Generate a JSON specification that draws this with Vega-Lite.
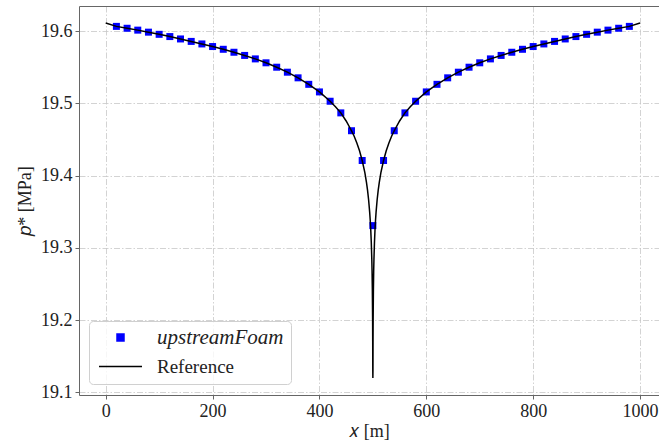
{
  "$schema": "https://vega.github.io/schema/vega-lite/v6.json",
  "autosize": {"type": "none"},
  "padding": {"left": 79, "top": 6, "right": 0, "bottom": 51},
  "width": 580,
  "height": 389,
  "background": "white",
  "config": {
    "view": {"stroke": null},
    "font": "Liberation Serif",
    "axis": {
      "labelFont": "Liberation Serif",
      "labelFontSize": 18,
      "labelColor": "#222222",
      "titleFont": "Liberation Serif",
      "titleFontSize": 18,
      "titleFontWeight": "normal",
      "titleColor": "#222222",
      "domainColor": "#666666",
      "domainWidth": 1,
      "tickColor": "#666666",
      "tickSize": 4,
      "tickWidth": 1,
      "gridColor": "#c8c8c8",
      "gridWidth": 0.8,
      "gridDash": [6, 2, 1.5, 2]
    }
  },
  "datasets": {
    "sim": [
      {"x": 20, "p": 19.6064, "series": "upstreamFoam"},
      {"x": 40, "p": 19.6038, "series": "upstreamFoam"},
      {"x": 60, "p": 19.6012, "series": "upstreamFoam"},
      {"x": 80, "p": 19.5984, "series": "upstreamFoam"},
      {"x": 100, "p": 19.5954, "series": "upstreamFoam"},
      {"x": 120, "p": 19.5923, "series": "upstreamFoam"},
      {"x": 140, "p": 19.589, "series": "upstreamFoam"},
      {"x": 160, "p": 19.5856, "series": "upstreamFoam"},
      {"x": 180, "p": 19.5821, "series": "upstreamFoam"},
      {"x": 200, "p": 19.5785, "series": "upstreamFoam"},
      {"x": 220, "p": 19.5747, "series": "upstreamFoam"},
      {"x": 240, "p": 19.5706, "series": "upstreamFoam"},
      {"x": 260, "p": 19.5662, "series": "upstreamFoam"},
      {"x": 280, "p": 19.5614, "series": "upstreamFoam"},
      {"x": 300, "p": 19.556, "series": "upstreamFoam"},
      {"x": 320, "p": 19.5499, "series": "upstreamFoam"},
      {"x": 340, "p": 19.543, "series": "upstreamFoam"},
      {"x": 360, "p": 19.5352, "series": "upstreamFoam"},
      {"x": 380, "p": 19.5262, "series": "upstreamFoam"},
      {"x": 400, "p": 19.5157, "series": "upstreamFoam"},
      {"x": 420, "p": 19.5028, "series": "upstreamFoam"},
      {"x": 440, "p": 19.4867, "series": "upstreamFoam"},
      {"x": 460, "p": 19.462, "series": "upstreamFoam"},
      {"x": 480, "p": 19.4208, "series": "upstreamFoam"},
      {"x": 500, "p": 19.3307, "series": "upstreamFoam"},
      {"x": 520, "p": 19.4208, "series": "upstreamFoam"},
      {"x": 540, "p": 19.462, "series": "upstreamFoam"},
      {"x": 560, "p": 19.4867, "series": "upstreamFoam"},
      {"x": 580, "p": 19.5028, "series": "upstreamFoam"},
      {"x": 600, "p": 19.5157, "series": "upstreamFoam"},
      {"x": 620, "p": 19.5262, "series": "upstreamFoam"},
      {"x": 640, "p": 19.5352, "series": "upstreamFoam"},
      {"x": 660, "p": 19.543, "series": "upstreamFoam"},
      {"x": 680, "p": 19.5499, "series": "upstreamFoam"},
      {"x": 700, "p": 19.556, "series": "upstreamFoam"},
      {"x": 720, "p": 19.5614, "series": "upstreamFoam"},
      {"x": 740, "p": 19.5662, "series": "upstreamFoam"},
      {"x": 760, "p": 19.5706, "series": "upstreamFoam"},
      {"x": 780, "p": 19.5747, "series": "upstreamFoam"},
      {"x": 800, "p": 19.5785, "series": "upstreamFoam"},
      {"x": 820, "p": 19.5821, "series": "upstreamFoam"},
      {"x": 840, "p": 19.5856, "series": "upstreamFoam"},
      {"x": 860, "p": 19.589, "series": "upstreamFoam"},
      {"x": 880, "p": 19.5923, "series": "upstreamFoam"},
      {"x": 900, "p": 19.5954, "series": "upstreamFoam"},
      {"x": 920, "p": 19.5984, "series": "upstreamFoam"},
      {"x": 940, "p": 19.6012, "series": "upstreamFoam"},
      {"x": 960, "p": 19.6038, "series": "upstreamFoam"},
      {"x": 980, "p": 19.6064, "series": "upstreamFoam"}
    ],
    "ref": [
      {"x": 0, "p": 19.611, "series": "Reference"},
      {"x": 20, "p": 19.6064, "series": "Reference"},
      {"x": 40, "p": 19.6038, "series": "Reference"},
      {"x": 60, "p": 19.6012, "series": "Reference"},
      {"x": 80, "p": 19.5984, "series": "Reference"},
      {"x": 100, "p": 19.5954, "series": "Reference"},
      {"x": 120, "p": 19.5923, "series": "Reference"},
      {"x": 140, "p": 19.589, "series": "Reference"},
      {"x": 160, "p": 19.5856, "series": "Reference"},
      {"x": 180, "p": 19.5821, "series": "Reference"},
      {"x": 200, "p": 19.5785, "series": "Reference"},
      {"x": 220, "p": 19.5747, "series": "Reference"},
      {"x": 240, "p": 19.5706, "series": "Reference"},
      {"x": 260, "p": 19.5662, "series": "Reference"},
      {"x": 280, "p": 19.5614, "series": "Reference"},
      {"x": 300, "p": 19.556, "series": "Reference"},
      {"x": 320, "p": 19.5499, "series": "Reference"},
      {"x": 340, "p": 19.543, "series": "Reference"},
      {"x": 360, "p": 19.5352, "series": "Reference"},
      {"x": 380, "p": 19.5262, "series": "Reference"},
      {"x": 400, "p": 19.5157, "series": "Reference"},
      {"x": 420, "p": 19.5028, "series": "Reference"},
      {"x": 430, "p": 19.4953, "series": "Reference"},
      {"x": 440, "p": 19.4867, "series": "Reference"},
      {"x": 450, "p": 19.4755, "series": "Reference"},
      {"x": 460, "p": 19.462, "series": "Reference"},
      {"x": 465, "p": 19.4543, "series": "Reference"},
      {"x": 470, "p": 19.4451, "series": "Reference"},
      {"x": 475, "p": 19.4343, "series": "Reference"},
      {"x": 480, "p": 19.4208, "series": "Reference"},
      {"x": 485, "p": 19.4039, "series": "Reference"},
      {"x": 488, "p": 19.3906, "series": "Reference"},
      {"x": 490, "p": 19.3798, "series": "Reference"},
      {"x": 492, "p": 19.3665, "series": "Reference"},
      {"x": 494, "p": 19.3494, "series": "Reference"},
      {"x": 495, "p": 19.3385, "series": "Reference"},
      {"x": 496, "p": 19.3253, "series": "Reference"},
      {"x": 497, "p": 19.3081, "series": "Reference"},
      {"x": 498, "p": 19.284, "series": "Reference"},
      {"x": 498.5, "p": 19.267, "series": "Reference"},
      {"x": 499, "p": 19.2427, "series": "Reference"},
      {"x": 499.5, "p": 19.2015, "series": "Reference"},
      {"x": 499.7, "p": 19.171, "series": "Reference"},
      {"x": 499.85, "p": 19.13, "series": "Reference"},
      {"x": 500, "p": 19.12, "series": "Reference"},
      {"x": 500.15, "p": 19.13, "series": "Reference"},
      {"x": 500.3, "p": 19.171, "series": "Reference"},
      {"x": 500.5, "p": 19.2015, "series": "Reference"},
      {"x": 501, "p": 19.2427, "series": "Reference"},
      {"x": 501.5, "p": 19.267, "series": "Reference"},
      {"x": 502, "p": 19.284, "series": "Reference"},
      {"x": 503, "p": 19.3081, "series": "Reference"},
      {"x": 504, "p": 19.3253, "series": "Reference"},
      {"x": 505, "p": 19.3385, "series": "Reference"},
      {"x": 506, "p": 19.3494, "series": "Reference"},
      {"x": 508, "p": 19.3665, "series": "Reference"},
      {"x": 510, "p": 19.3798, "series": "Reference"},
      {"x": 512, "p": 19.3906, "series": "Reference"},
      {"x": 515, "p": 19.4039, "series": "Reference"},
      {"x": 520, "p": 19.4208, "series": "Reference"},
      {"x": 525, "p": 19.4343, "series": "Reference"},
      {"x": 530, "p": 19.4451, "series": "Reference"},
      {"x": 535, "p": 19.4543, "series": "Reference"},
      {"x": 540, "p": 19.462, "series": "Reference"},
      {"x": 550, "p": 19.4755, "series": "Reference"},
      {"x": 560, "p": 19.4867, "series": "Reference"},
      {"x": 570, "p": 19.4953, "series": "Reference"},
      {"x": 580, "p": 19.5028, "series": "Reference"},
      {"x": 600, "p": 19.5157, "series": "Reference"},
      {"x": 620, "p": 19.5262, "series": "Reference"},
      {"x": 640, "p": 19.5352, "series": "Reference"},
      {"x": 660, "p": 19.543, "series": "Reference"},
      {"x": 680, "p": 19.5499, "series": "Reference"},
      {"x": 700, "p": 19.556, "series": "Reference"},
      {"x": 720, "p": 19.5614, "series": "Reference"},
      {"x": 740, "p": 19.5662, "series": "Reference"},
      {"x": 760, "p": 19.5706, "series": "Reference"},
      {"x": 780, "p": 19.5747, "series": "Reference"},
      {"x": 800, "p": 19.5785, "series": "Reference"},
      {"x": 820, "p": 19.5821, "series": "Reference"},
      {"x": 840, "p": 19.5856, "series": "Reference"},
      {"x": 860, "p": 19.589, "series": "Reference"},
      {"x": 880, "p": 19.5923, "series": "Reference"},
      {"x": 900, "p": 19.5954, "series": "Reference"},
      {"x": 920, "p": 19.5984, "series": "Reference"},
      {"x": 940, "p": 19.6012, "series": "Reference"},
      {"x": 960, "p": 19.6038, "series": "Reference"},
      {"x": 980, "p": 19.6064, "series": "Reference"},
      {"x": 1000, "p": 19.611, "series": "Reference"}
    ]
  },
  "resolve": {"axis": {"x": "independent"}},
  "layer": [
    {
      "data": {"name": "sim"},
      "mark": {"type": "point", "filled": true, "shape": "square", "size": 49, "opacity": 1},
      "encoding": {
        "x": {
          "field": "x", "type": "quantitative",
          "scale": {"domain": [-50, 1035.5], "nice": false, "zero": false},
          "axis": {"orient": "top", "labels": false, "ticks": false, "grid": false, "domain": true, "title": null}
        },
        "y": {
          "field": "p", "type": "quantitative",
          "scale": {"domain": [19.0963, 19.6346], "nice": false, "zero": false},
          "axis": {
            "values": [19.1, 19.2, 19.3, 19.4, 19.5, 19.6],
            "format": ".1f",
            "grid": true,
            "labelPadding": 3,
            "title": "𝑝* [MPa]",
            "titlePadding": 6
          }
        },
        "color": {
          "field": "series", "type": "nominal",
          "scale": {"domain": ["upstreamFoam", "Reference"], "range": ["#0000ff", "#000000"]},
          "legend": {
            "title": null,
            "orient": "none",
            "legendX": 10,
            "legendY": 315,
            "padding": 7,
            "rowPadding": 9,
            "cornerRadius": 4,
            "fillColor": "rgba(255,255,255,0.8)",
            "strokeColor": "#d0d0d0",
            "symbolSize": 196,
            "symbolOffset": 15,
            "symbolStrokeWidth": 1.5,
            "symbolType": {"expr": "datum.value === 'Reference' ? 'M-3.07,0H3.07' : 'M-0.5,-0.5H0.5V0.5H-0.5Z'"},
            "labelOffset": 27,
            "labelFont": "Liberation Serif",
            "labelFontSize": {"expr": "datum.value === 'upstreamFoam' ? 21 : 19"},
            "labelColor": "#222222",
            "labelFontStyle": {"expr": "datum.value === 'upstreamFoam' ? 'italic' : 'normal'"}
          }
        }
      }
    },
    {
      "data": {"name": "ref"},
      "mark": {"type": "line", "strokeWidth": 1.5, "clip": true},
      "encoding": {
        "x": {
          "field": "x", "type": "quantitative",
          "axis": {
            "values": [0, 200, 400, 600, 800, 1000],
            "format": "d",
            "grid": true,
            "labelPadding": 3,
            "title": "𝑥 [m]",
            "titlePadding": 2
          }
        },
        "y": {"field": "p", "type": "quantitative"},
        "color": {"field": "series", "type": "nominal"}
      }
    }
  ]
}
